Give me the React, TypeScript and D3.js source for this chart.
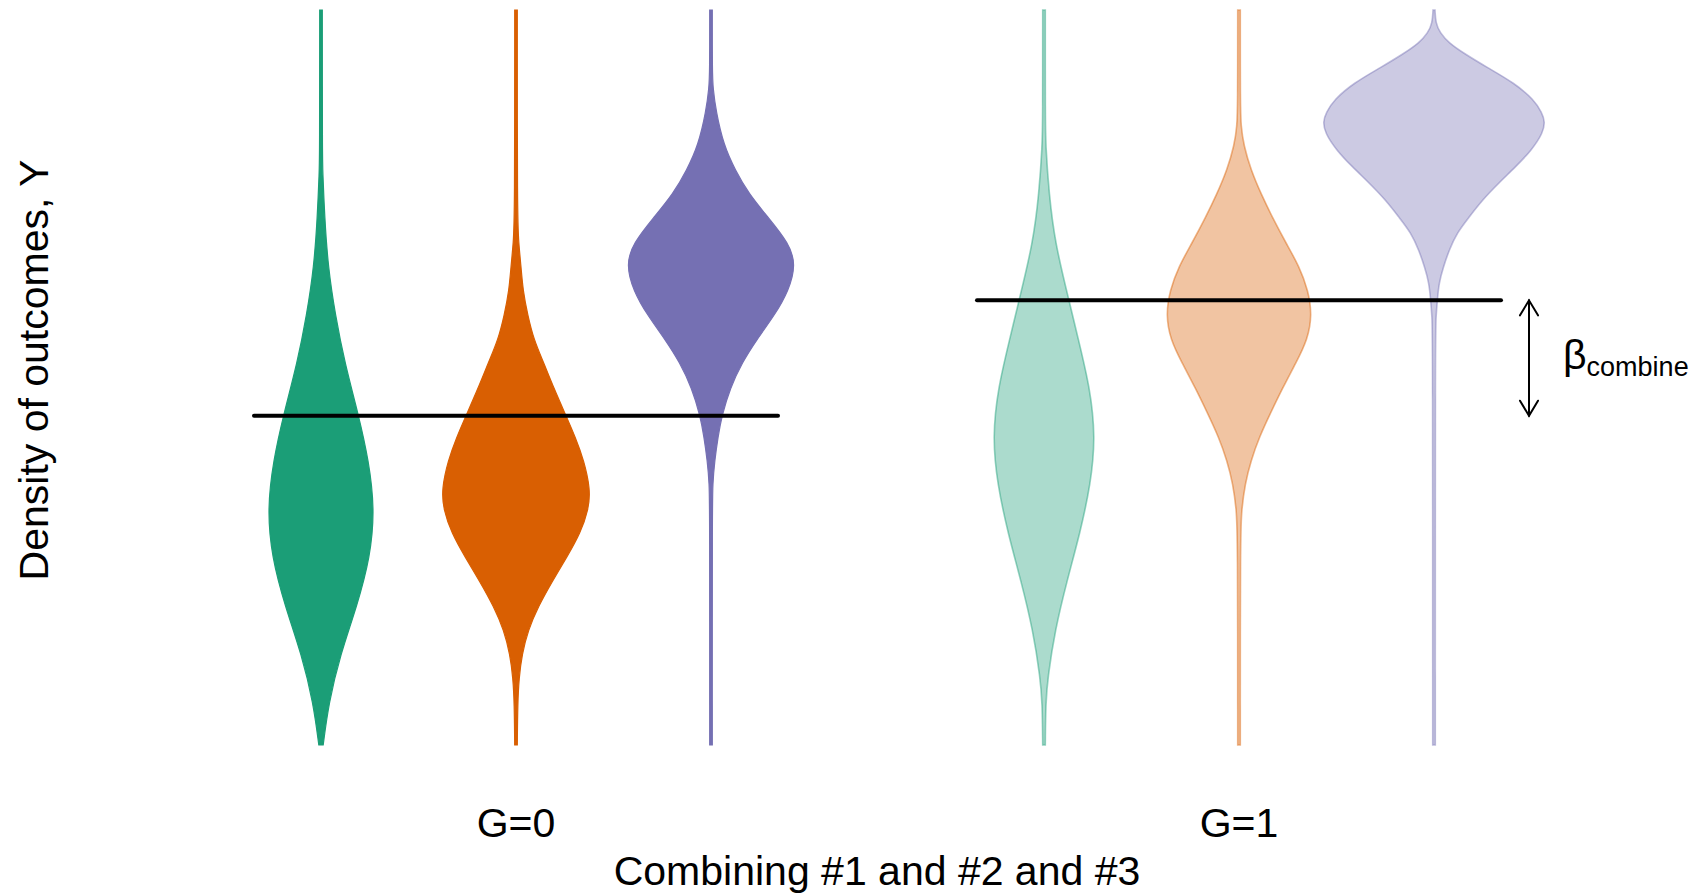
import React from "react";
import * as d3 from "d3";

// ---- data (outcome value, density) ----
const groups = ["G=0", "G=1"];
const variants = ["#1", "#2", "#3"];
const colors = ["#1B9E77", "#D95F02", "#7570B3"];
const groupMeans = [4.48, 6.05];
const xTitle = "Combining #1 and #2 and #3";
const yTitle = "Density of outcomes, Y";
const effectLabel = "combine";

const g0Green: [number, number][] = [
  [10.0, 0.013], [8.0, 0.014], [7.82, 0.017], [7.17, 0.037], [6.51, 0.07], [5.85, 0.143],
  [5.2, 0.237], [4.48, 0.377], [3.87, 0.477], [3.21, 0.537], [2.56, 0.493], [1.89, 0.36],
  [1.23, 0.193], [0.57, 0.077], [0.0, 0.022],
];
const g0Orange: [number, number][] = [
  [10.0, 0.013], [7.17, 0.013], [6.83, 0.027], [6.51, 0.05], [6.18, 0.07], [5.85, 0.117],
  [5.52, 0.177], [5.2, 0.277], [4.86, 0.377], [4.48, 0.5], [4.19, 0.593], [3.87, 0.68],
  [3.48, 0.743], [3.21, 0.727], [2.88, 0.643], [2.56, 0.51], [2.22, 0.36], [1.89, 0.225],
  [1.56, 0.12], [1.23, 0.06], [0.91, 0.03], [0.57, 0.017], [0.0, 0.013],
];
const g0Purple: [number, number][] = [
  [10.0, 0.013], [9.15, 0.013], [8.94, 0.02], [8.62, 0.05], [8.16, 0.127], [7.82, 0.243],
  [7.5, 0.377], [7.17, 0.577], [6.83, 0.777], [6.54, 0.85], [6.18, 0.777], [5.85, 0.637],
  [5.52, 0.46], [5.2, 0.31], [4.86, 0.193], [4.48, 0.108], [4.19, 0.07], [3.87, 0.037],
  [3.55, 0.017], [3.21, 0.013], [0.0, 0.013],
];
const g1Green: [number, number][] = [
  [10.0, 0.013], [8.5, 0.013], [8.16, 0.017], [7.5, 0.05], [6.83, 0.11], [6.05, 0.25],
  [5.52, 0.343], [4.86, 0.46], [4.19, 0.515], [3.55, 0.467], [2.88, 0.36], [2.22, 0.227],
  [1.56, 0.11], [0.91, 0.037], [0.57, 0.017], [0.0, 0.013],
];
const g1Orange: [number, number][] = [
  [10.0, 0.013], [8.69, 0.013], [8.42, 0.02], [8.16, 0.047], [7.82, 0.12], [7.5, 0.22],
  [7.17, 0.337], [6.83, 0.47], [6.51, 0.603], [6.18, 0.693], [5.85, 0.73], [5.52, 0.687],
  [5.2, 0.57], [4.86, 0.437], [4.53, 0.32], [4.19, 0.203], [3.87, 0.12], [3.55, 0.06],
  [3.21, 0.027], [2.88, 0.013], [0.0, 0.013],
];
const g1Purple: [number, number][] = [
  [10.0, 0.01], [9.82, 0.017], [9.69, 0.06], [9.55, 0.15], [9.41, 0.3], [9.22, 0.53],
  [9.01, 0.8], [8.78, 1.0], [8.6, 1.08], [8.48, 1.11], [8.33, 1.09], [8.1, 0.98],
  [7.87, 0.82], [7.65, 0.65], [7.41, 0.48], [7.18, 0.35], [6.97, 0.23], [6.73, 0.15],
  [6.5, 0.093], [6.29, 0.05], [6.05, 0.033], [5.82, 0.02], [5.6, 0.013], [0.0, 0.013],
];
const violins = [
  [g0Green, g0Orange, g0Purple],
  [g1Green, g1Orange, g1Purple],
];

const FONT = "'Liberation Sans', Arial, Helvetica, sans-serif";

export default function App() {
  const W = 1706;
  const H = 894;
  const xGroup = d3.scalePoint<string>().domain(groups).range([516, 1239]);
  const xOffset = d3.scalePoint<string>().domain(variants).range([-195, 195]);
  const y = d3.scaleLinear().domain([0, 10]).range([745, 10]);
  const w = d3.scaleLinear().domain([0, 1]).range([0, 100]);

  const shapes: JSX.Element[] = [];
  groups.forEach((g, gi) => {
    variants.forEach((v, vi) => {
      const cx = (xGroup(g) as number) + (xOffset(v) as number);
      const pts = violins[gi][vi];
      const right = d3
        .line<[number, number]>()
        .y((d) => y(d[0]))
        .x((d) => cx + w(d[1]))
        .curve(d3.curveBasis);
      const left = d3
        .line<[number, number]>()
        .y((d) => y(d[0]))
        .x((d) => cx - w(d[1]))
        .curve(d3.curveBasis);
      const rPath = right(pts) || "";
      const lPath = (left(pts.slice().reverse()) || "").replace(/^M/, "L");
      const path = rPath + lPath + "Z";
      const col = colors[vi];
      if (gi === 0) {
        shapes.push(
          <path key={g + v} d={path} fill={col} stroke={col} strokeWidth={1.2} />
        );
      } else {
        shapes.push(
          <path
            key={g + v}
            d={path}
            fill={col}
            fillOpacity={0.37}
            stroke={col}
            strokeOpacity={0.45}
            strokeWidth={1.6}
          />
        );
      }
    });
  });

  const lineHalf = 262;
  const yTop = y(groupMeans[1]);
  const yBot = y(groupMeans[0]);
  const ax = (xGroup("G=1") as number) + 290;
  const headL = 15;
  const headW = 9;

  return (
    <svg
      width={W}
      height={H}
      style={{ position: "absolute", left: 0, top: 0, background: "#fff" }}
      fontFamily={FONT}
    >
      <rect x={0} y={0} width={W} height={H} fill="#fff" />
      {shapes}
      {groups.map((g, gi) => (
        <line
          key={"m" + g}
          x1={(xGroup(g) as number) - lineHalf}
          x2={(xGroup(g) as number) + lineHalf}
          y1={y(groupMeans[gi])}
          y2={y(groupMeans[gi])}
          stroke="#000"
          strokeWidth={4}
          strokeLinecap="round"
        />
      ))}
      {/* effect arrow */}
      <g stroke="#000" strokeWidth={2} fill="none" strokeLinecap="round">
        <line x1={ax} x2={ax} y1={yTop} y2={yBot} />
        <polyline points={`${ax - headW},${yTop + headL} ${ax},${yTop} ${ax + headW},${yTop + headL}`} />
        <polyline points={`${ax - headW},${yBot - headL} ${ax},${yBot} ${ax + headW},${yBot - headL}`} />
      </g>
      <text x={ax + 34} y={369} fontSize={41} fill="#000">
        <tspan>β</tspan>
        <tspan fontSize={27} dy={7}>{effectLabel}</tspan>
      </text>
      {groups.map((g) => (
        <text key={"t" + g} x={xGroup(g) as number} y={837} fontSize={41} textAnchor="middle" fill="#000">
          {g}
        </text>
      ))}
      <text x={877} y={885} fontSize={41} textAnchor="middle" fill="#000">
        {xTitle}
      </text>
      <text transform="translate(48,370) rotate(-90)" fontSize={41} textAnchor="middle" fill="#000">
        {yTitle}
      </text>
    </svg>
  );
}
